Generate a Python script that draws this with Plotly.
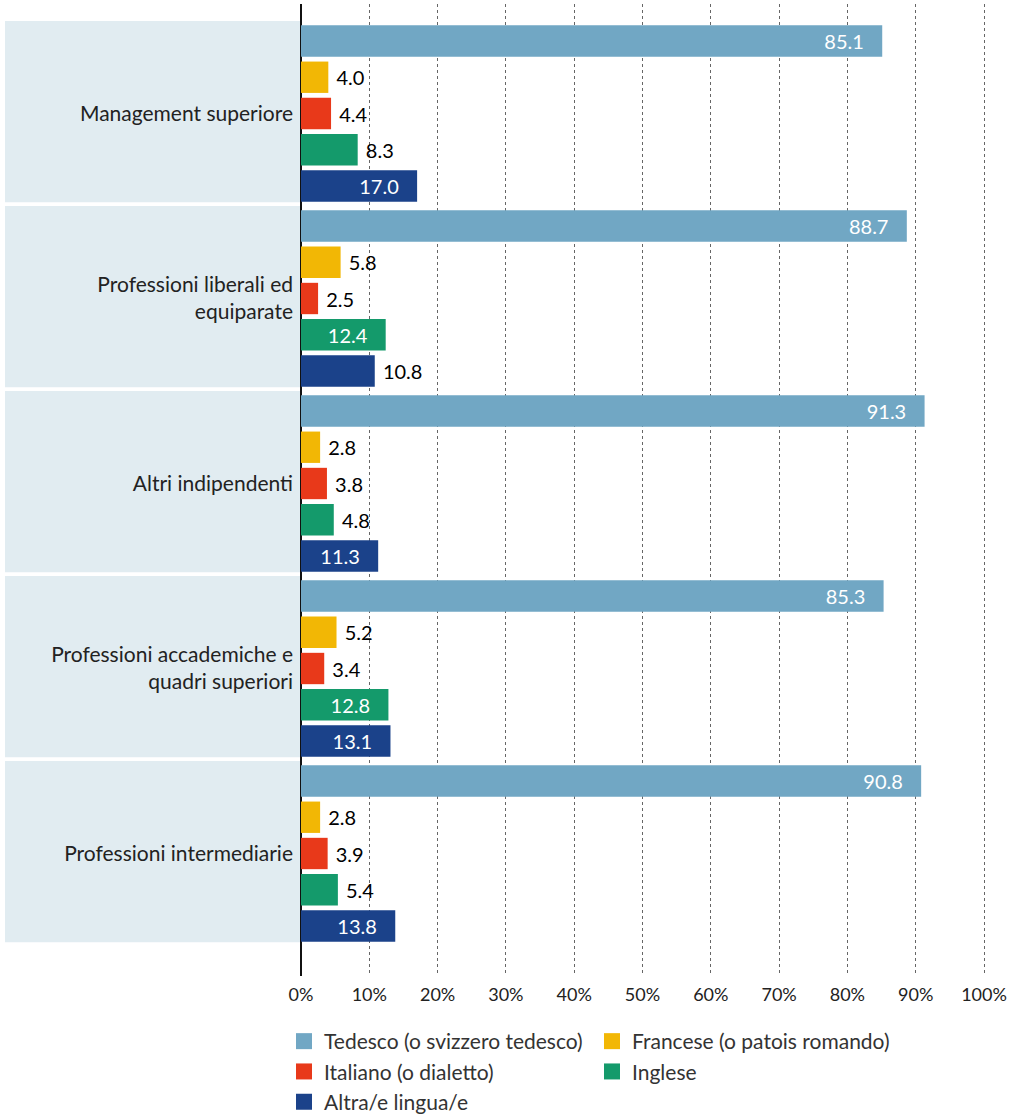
import plotly.graph_objects as go

categories = [
    "Management superiore",
    "Professioni liberali ed<br>equiparate",
    "Altri indipendenti",
    "Professioni accademiche e<br>quadri superiori",
    "Professioni intermediarie",
]
series_names = [
    "Tedesco (o svizzero tedesco)",
    "Francese (o patois romando)",
    "Italiano (o dialetto)",
    "Inglese",
    "Altra/e lingua/e",
]
tedesco = [85.1, 88.7, 91.3, 85.3, 90.8]
francese = [4.0, 5.8, 2.8, 5.2, 2.8]
italiano = [4.4, 2.5, 3.8, 3.4, 3.9]
inglese = [8.3, 12.4, 4.8, 12.8, 5.4]
altra = [17.0, 10.8, 11.3, 13.1, 13.8]
series_values = [tedesco, francese, italiano, inglese, altra]
colors = ["#71a7c4", "#f2b705", "#e8391a", "#149a6b", "#1b428a"]
legend_column = ["legend", "legend2", "legend", "legend2", "legend"]
x_ticks = list(range(0, 101, 10))
x_tick_labels = [f"{t}%" for t in x_ticks]

FONT = "Lato"
W, H = 1014, 1115
ML, MR, MT, MB = 301, 13, 4, 139
PW = W - ML - MR
PH = H - MT - MB
PX_PER_UNIT = 68.3 / 10

fig = go.Figure()
ypos = list(range(len(categories)))
for name, vals, col in zip(series_names, series_values, colors):
    texts, positions, tcolors = [], [], []
    for v in vals:
        if v >= 11:
            texts.append(f"{v:.1f}" + "\u00a0" * 3)
            positions.append("inside")
            tcolors.append("white")
        else:
            texts.append("\u00a0" + f"{v:.1f}")
            positions.append("outside")
            tcolors.append("black")
    fig.add_trace(go.Bar(
        x=vals, y=ypos, orientation="h", name=name,
        marker=dict(color=col, line=dict(width=0)),
        text=texts, textposition=positions, insidetextanchor="end",
        textfont=dict(family=FONT, size=20, color=tcolors),
        cliponaxis=False, showlegend=False, hoverinfo="x+name",
    ))

# legend entries (two columns, as in the reference)
for name, col, lg in zip(series_names, colors, legend_column):
    fig.add_trace(go.Scatter(
        x=[None], y=[None], mode="markers", name=name,
        marker=dict(symbol="square", size=16, color=col),
        showlegend=True, legend=lg,
    ))

# category background bands
for i in ypos:
    fig.add_shape(
        type="rect", xref="paper", yref="y",
        x0=(5 - ML) / PW, x1=0, y0=i - 0.5, y1=i + 0.48,
        fillcolor="#e1ecf1", line=dict(width=0), layer="below",
    )

legend_common = dict(
    orientation="v", xanchor="left",
    y=-(1021 - (MT + PH)) / PH, yanchor="top",
    font=dict(family=FONT, size=21, color="#333"),
    bgcolor="rgba(0,0,0,0)", tracegroupgap=0,
)

fig.update_layout(
    width=W, height=H,
    margin=dict(l=ML, r=MR, t=MT, b=MB, pad=0, autoexpand=False),
    paper_bgcolor="white", plot_bgcolor="white",
    barmode="group", bargap=0.02, bargroupgap=0.135,
    font=dict(family=FONT, size=21, color="#222"),
    uniformtext=dict(minsize=8, mode="show"),
    xaxis=dict(
        range=[0, PW / PX_PER_UNIT], tickvals=x_ticks, ticktext=x_tick_labels,
        showgrid=True, gridcolor="#666", griddash="dot", gridwidth=1,
        zeroline=True, zerolinecolor="#111", zerolinewidth=2,
        showline=False, ticks="", ticklabelstandoff=6,
        tickfont=dict(family=FONT, size=18, color="#222"),
        automargin=False,
    ),
    yaxis=dict(
        range=[4.5 + 30 / 185, -0.5 - 17 / 185],
        tickvals=ypos, ticktext=categories,
        showgrid=False, zeroline=False, showline=False, ticks="",
        ticklabelstandoff=7,
        tickfont=dict(family=FONT, size=21, color="#222"),
        automargin=False,
    ),
    legend=dict(x=(284 - ML) / PW, **legend_common),
    legend2=dict(x=(592 - ML) / PW, **legend_common),
)

fig.write_html(
    "out.html",
    config={"displayModeBar": False},
    post_script="document.body.style.margin='0';",
)
